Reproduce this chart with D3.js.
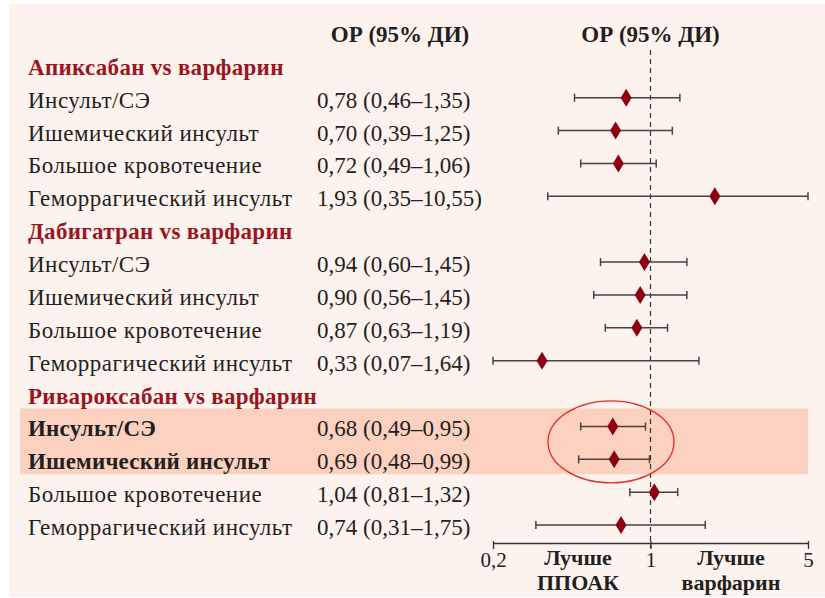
<!DOCTYPE html>
<html>
<head>
<meta charset="utf-8">
<script src="https://cdn.jsdelivr.net/npm/d3@7"></script>
<style>
  body { margin: 0; background: #ffffff; }
  text { font-family: "Liberation Serif", "DejaVu Serif", serif; fill: #231f20; }
</style>
</head>
<body>
<div id="canvas"></div>
<script>
"use strict"

/* Data */
let groups = ["Апиксабан vs варфарин", "Дабигатран vs варфарин", "Ривароксабан vs варфарин"];
let outcomes = ["Инсульт/СЭ", "Ишемический инсульт", "Большое кровотечение", "Геморрагический инсульт"];
let hrValues = [
    [0.78, 0.70, 0.72, 1.93],
    [0.94, 0.90, 0.87, 0.33],
    [0.68, 0.69, 1.04, 0.74]
];
let ciLow = [
    [0.46, 0.39, 0.49, 0.35],
    [0.60, 0.56, 0.63, 0.07],
    [0.49, 0.48, 0.81, 0.31]
];
let ciHigh = [
    [1.35, 1.25, 1.06, 10.55],
    [1.45, 1.45, 1.19, 1.64],
    [0.95, 0.99, 1.32, 1.75]
];
// rows of each group that are highlighted (bold + band)
let highlighted = [[], [], [0, 1]];
let tickValues = [0.2, 1, 5];
let tickLabels = ["0,2", "1", "5"];
let headerText = "ОР (95% ДИ)";
let leftNote = ["Лучше", "ППОАК"];
let rightNote = ["Лучше", "варфарин"];

/* Drawing config */
let svgWidth = 825;
let svgHeight = 598;
let labelX = 28;
let valueX = 317;
let axisY = 543;
let fontSize = 23;

let svg = d3.select("#canvas")
    .append("svg")
    .attr("width", svgWidth)
    .attr("height", svgHeight);

// background panel
svg.append("rect")
    .attr("x", 9)
    .attr("y", 4)
    .attr("width", svgWidth - 9)
    .attr("height", svgHeight - 5)
    .attr("fill", "#fcf3ee");

// build row list: row 0 is header, then group title + 4 outcome rows per group
let rows = [];
let r = 1;
groups.forEach(function(g, gi) {
    rows.push({type: "group", label: g, row: r++});
    outcomes.forEach(function(o, oi) {
        rows.push({
            type: "item", label: o, row: r++,
            hr: hrValues[gi][oi], lo: ciLow[gi][oi], hi: ciHigh[gi][oi],
            bold: highlighted[gi].indexOf(oi) >= 0
        });
    });
});

let yScale = d3.scaleLinear()
    .domain([0, 15])
    .range([32, 32 + 15 * 32.87]);

let xScale = d3.scaleLog()
    .domain([0.2, 5])
    .range([493, 808])
    .clamp(true);

let fmt = function(v) { return d3.format(".2f")(v).replace(".", ","); };

// highlight band
let boldRows = rows.filter(function(d) { return d.bold; });
let bandTop = yScale(d3.min(boldRows, function(d) { return d.row; })) - 18;
let bandBottom = yScale(d3.max(boldRows, function(d) { return d.row; })) + 15;
svg.append("rect")
    .attr("x", 20)
    .attr("y", bandTop)
    .attr("width", xScale(5) - 20)
    .attr("height", bandBottom - bandTop)
    .attr("fill", "#fcd1c0");

// column headers
[400, xScale(1)].forEach(function(cx) {
    svg.append("text")
        .attr("x", cx)
        .attr("y", yScale(0) + 10)
        .attr("text-anchor", "middle")
        .attr("font-size", fontSize)
        .attr("font-weight", "bold")
        .text(headerText);
});

// reference line at 1
svg.append("line")
    .attr("x1", xScale(1))
    .attr("x2", xScale(1))
    .attr("y1", 50)
    .attr("y2", axisY + 5)
    .attr("stroke", "#333")
    .attr("stroke-width", 1.2)
    .attr("stroke-dasharray", "5,4");

// labels
svg.selectAll("text.label")
    .data(rows)
    .join("text")
    .attr("class", "label")
    .attr("x", labelX)
    .attr("y", function(d) { return yScale(d.row) + 10; })
    .attr("font-size", fontSize)
    .attr("letter-spacing", function(d) {
        if (d.type === "group") return 0.3;
        return d.bold ? 0.2 : 0.5;
    })
    .attr("font-weight", function(d) { return (d.type === "group" || d.bold) ? "bold" : "normal"; })
    .style("fill", function(d) { return d.type === "group" ? "#9b1520" : "#231f20"; })
    .text(function(d) { return d.label; });

let items = rows.filter(function(d) { return d.type === "item"; });

// values column
svg.selectAll("text.value")
    .data(items)
    .join("text")
    .attr("class", "value")
    .attr("x", valueX)
    .attr("y", function(d) { return yScale(d.row) + 10; })
    .attr("font-size", fontSize)
    .text(function(d) { return fmt(d.hr) + " (" + fmt(d.lo) + "–" + fmt(d.hi) + ")"; });

// confidence intervals
let ci = svg.selectAll("g.ci")
    .data(items)
    .join("g")
    .attr("class", "ci")
    .attr("stroke", "#4a4242")
    .attr("stroke-width", 1.5);

ci.append("line")
    .attr("x1", function(d) { return xScale(d.lo); })
    .attr("x2", function(d) { return xScale(d.hi); })
    .attr("y1", function(d) { return yScale(d.row); })
    .attr("y2", function(d) { return yScale(d.row); });

ci.append("line")
    .attr("x1", function(d) { return xScale(d.lo); })
    .attr("x2", function(d) { return xScale(d.lo); })
    .attr("y1", function(d) { return yScale(d.row) - 4; })
    .attr("y2", function(d) { return yScale(d.row) + 4; });

ci.append("line")
    .attr("x1", function(d) { return xScale(d.hi); })
    .attr("x2", function(d) { return xScale(d.hi); })
    .attr("y1", function(d) { return yScale(d.row) - 4; })
    .attr("y2", function(d) { return yScale(d.row) + 4; });

// point estimates (diamonds)
svg.selectAll("path.diamond")
    .data(items)
    .join("path")
    .attr("class", "diamond")
    .attr("d", function(d) {
        let x = xScale(d.hr), y = yScale(d.row);
        return "M" + x + "," + (y - 9) + "L" + (x + 5.5) + "," + y + "L" + x + "," + (y + 9) + "L" + (x - 5.5) + "," + y + "Z";
    })
    .attr("fill", "#8e0011");

// highlight ellipse
svg.append("ellipse")
    .attr("cx", 611)
    .attr("cy", (yScale(12) + yScale(13)) / 2 - 1)
    .attr("rx", 63)
    .attr("ry", 41)
    .attr("fill", "none")
    .attr("stroke", "#e5362f")
    .attr("stroke-width", 1.4);

// x axis
let xAxis = d3.axisBottom(xScale)
    .tickValues(tickValues)
    .tickFormat(function(d, i) { return tickLabels[i]; })
    .tickSizeInner(6)
    .tickSizeOuter(0)
    .tickPadding(3);

let axisG = svg.append("g")
    .attr("transform", "translate(0," + axisY + ")")
    .call(xAxis);

axisG.select(".domain").attr("stroke", "#333").attr("stroke-width", 1.3);
axisG.selectAll(".tick line").attr("stroke", "#333").attr("stroke-width", 1.3).attr("y1", -2);
axisG.selectAll(".tick text")
    .attr("font-size", 21)
    .attr("font-family", "Liberation Serif, serif")
    .style("fill", "#231f20");

// direction notes
[{x: 578, lines: leftNote}, {x: 731, lines: rightNote}].forEach(function(n) {
    n.lines.forEach(function(t, i) {
        svg.append("text")
            .attr("x", n.x)
            .attr("y", 565 + i * 25)
            .attr("text-anchor", "middle")
            .attr("font-size", 22)
            .attr("font-weight", "bold")
            .text(t);
    });
});
</script>
</body>
</html>
